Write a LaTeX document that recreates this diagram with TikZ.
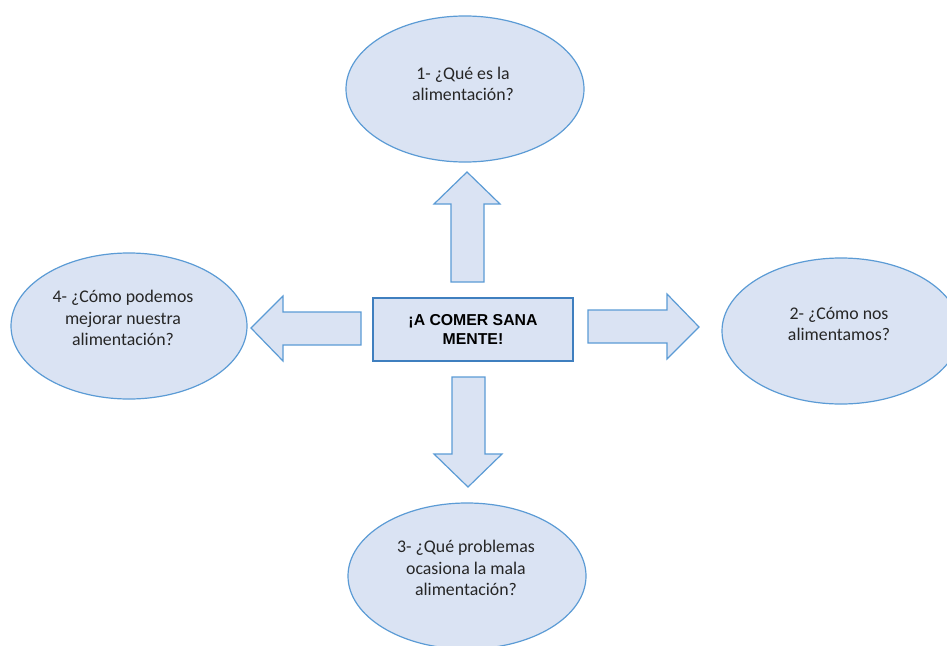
\documentclass[tikz,border=0pt]{standalone}
\usepackage{fontspec}
\setmainfont{Carlito}
\newfontfamily\boxfont{Liberation Sans}
\usetikzlibrary{shapes.geometric}
\definecolor{fillb}{HTML}{DAE3F3}
\definecolor{lineb}{HTML}{5B9BD5}
\definecolor{boxline}{HTML}{3F7FBF}
\tikzset{
  ell/.style={ellipse, draw=lineb, fill=fillb, line width=1.2pt, minimum width=238pt, minimum height=146pt, inner sep=0pt},
  qtext/.style={align=center, font=\fontsize{17.8}{21.7}\selectfont, inner sep=0pt, text=black!85},
  blockarrow/.style={draw=lineb, fill=fillb, line width=1.2pt, line join=miter},
  centerbox/.style={draw=boxline, fill=fillb, line width=1.2pt, minimum width=200pt, minimum height=63pt, inner sep=0pt, align=center, font=\boxfont\bfseries\fontsize{15.8}{19.5}\selectfont}
}
\begin{document}
\begin{tikzpicture}[x=1pt,y=-1pt]
\useasboundingbox (0,0) rectangle (947,645);
\clip (0,0) rectangle (947,645);
% ellipses
\node[ell] (q1) at (465,89) {};
\node[ell] (q2) at (841,331) {};
\node[ell] (q3) at (467,576) {};
\node[ell, minimum width=236pt] (q4) at (129,326) {};
\node[qtext] (q1t) at (463,84) {1- ¿Qué es la\\alimentación?};
\node[qtext] (q2t) at (839,324) {2- ¿Cómo nos\\alimentamos?};
\node[qtext] (q3t) at (466,568) {3- ¿Qué problemas\\ocasiona la mala\\alimentación?};
\node[qtext] (q4t) at (123,318) {4- ¿Cómo podemos\\mejorar nuestra\\alimentación?};
% center box
\node[centerbox] (c) at (473,329.5) {¡A COMER SANA\\MENTE!};
% block arrows
\draw[blockarrow] (451,282) -- (451,204) -- (434,204) -- (467,172) -- (500,204) -- (484,204) -- (484,282) -- cycle;
\draw[blockarrow] (452,377) -- (452,454) -- (434,454) -- (468,487) -- (502,454) -- (485,454) -- (485,377) -- cycle;
\draw[blockarrow] (361,312) -- (283,312) -- (283,296) -- (251,328) -- (283,361) -- (283,345) -- (361,345) -- cycle;
\draw[blockarrow] (588,310) -- (667,310) -- (667,294) -- (699,327) -- (667,359) -- (667,343) -- (588,343) -- cycle;
\end{tikzpicture}
\end{document}
